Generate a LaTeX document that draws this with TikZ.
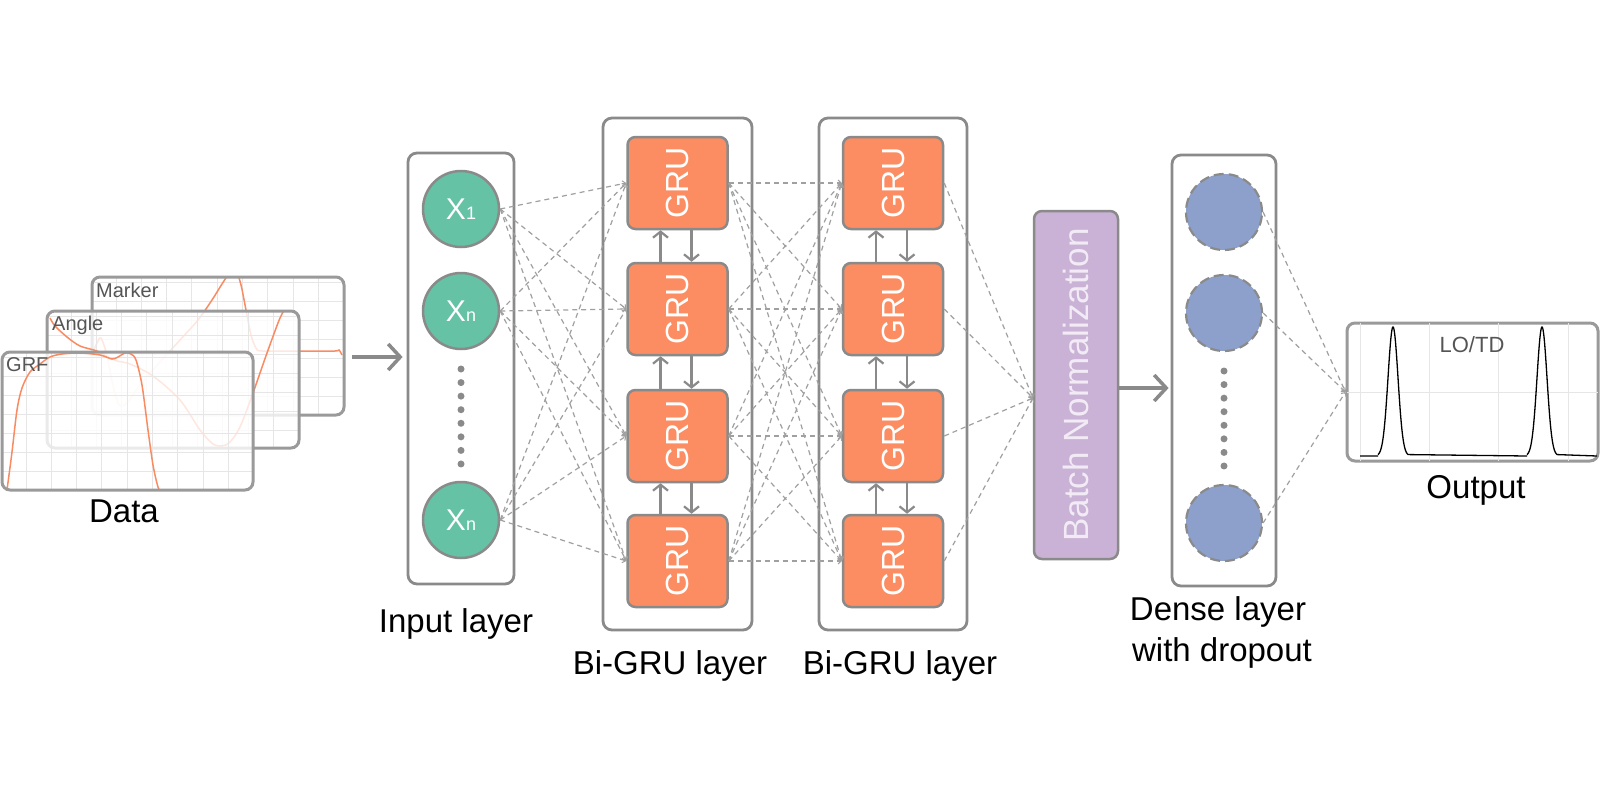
\documentclass[tikz,border=0pt]{standalone}
\usepackage{fontspec}
\setmainfont{Liberation Sans}
\usetikzlibrary{arrows.meta}
\definecolor{bgray}{HTML}{8A8A8A}
\definecolor{dgray}{HTML}{A0A0A0}
\definecolor{pgray}{HTML}{9A9A9A}
\definecolor{inteal}{HTML}{66C2A5}
\definecolor{gruor}{HTML}{FC8D62}
\definecolor{dblue}{HTML}{8DA0CB}
\definecolor{bnpurp}{HTML}{C9B2D6}
\definecolor{bntext}{HTML}{F2EBF5}
\definecolor{gridc}{HTML}{E6E6E6}
\definecolor{ptext}{HTML}{555555}
\definecolor{curvec}{HTML}{F98B63}
\tikzset{
  layerbox/.style={draw=bgray, line width=2.8pt, rounded corners=9pt, inner sep=0pt},
  grunode/.style={draw=bgray, line width=2.5pt, rounded corners=8pt, fill=gruor,
    minimum width=100pt, minimum height=92pt, inner sep=0pt, text=white,
    font=\fontsize{32}{32}\selectfont},
  inneuron/.style={circle, draw=bgray, line width=2.5pt, fill=inteal, minimum size=76pt,
    inner sep=0pt, text=white, font=\fontsize{30}{30}\selectfont},
  dneuron/.style={circle, draw=bgray, line width=2.2pt, dash pattern=on 10pt off 5pt,
    fill=dblue, minimum size=76pt, inner sep=0pt},
  bnbox/.style={draw=bgray, line width=2.5pt, rounded corners=8pt, fill=bnpurp,
    minimum width=84pt, minimum height=348pt, inner sep=0pt, text=bntext,
    font=\fontsize{35}{35}\selectfont},
  conn/.style={draw=dgray, line width=1.2pt, dash pattern=on 5pt off 4pt,
    -{Straight Barb[length=3pt,width=6pt,line width=1pt]}},
  bigarrow/.style={draw=bgray, line width=3.5pt,
    -{Straight Barb[length=12pt,width=26pt,line width=3.5pt]}},
  vertarrow/.style={draw=bgray, line width=2.2pt,
    -{Straight Barb[length=6pt,width=15pt,line width=2.2pt]}},
  lbl/.style={font=\fontsize{33}{33}\selectfont, text=black, anchor=base, inner sep=0pt},
  plabel/.style={font=\fontsize{20}{20}\selectfont, text=ptext, anchor=base west, inner sep=0pt},
  panelborder/.style={draw=pgray, line width=3pt, rounded corners=8pt},
  gridline/.style={draw=gridc, line width=0.9pt},
  curveline/.style={draw=curvec, line width=1.5pt},
  dotc/.style={fill=bgray, circle, inner sep=0pt, minimum size=7pt},
}
\begin{document}
\begin{tikzpicture}[x=1pt,y=-1pt]
\useasboundingbox (0,0) rectangle (1600,800);
\fill[white] (0,0) rectangle (1600,800);

% ---------------- data panels ----------------
% Marker
\fill[white, rounded corners=8pt] (92,277) rectangle (344,415);
\begin{scope}
  \clip[rounded corners=8pt] (92,277) rectangle (344,415);
  \foreach \k in {0,...,9} \draw[gridline] ({92+24+25.3*\k},277) -- ++(0,138);
  \foreach \k in {0,...,6} \draw[gridline] (92,{277+5+19*\k}) -- ++(252,0);
  \draw[curveline] plot[smooth] coordinates {(93,352) (98,341) (101,338) (106,352) (113,385) (119,405) (128,402) (140,385) (160,362) (180,340) (198,320) (212,300) (222,284) (229,274) (236,271) (241,285) (246,310) (251,335) (256,348) (262,351) (300,351) (335,351) (339,350) (342,355)};
\end{scope}
\draw[panelborder] (92,277) rectangle (344,415);
\node[plabel] (tmarker) at (96,297) {Marker};
% Angle
\fill[white, fill opacity=0.8, rounded corners=8pt] (47,311) rectangle (299,448);
\begin{scope}
  \clip[rounded corners=8pt] (47,311) rectangle (299,448);
  \foreach \k in {0,...,9} \draw[gridline] ({47+24+25.3*\k},311) -- ++(0,137);
  \foreach \k in {0,...,6} \draw[gridline] (47,{311+5+19*\k}) -- ++(252,0);
  \draw[curveline] plot[smooth] coordinates {(50,318) (55,326) (67,337) (80,346) (97,351) (110,358) (117,361) (130,364) (153,376) (180,400) (200,430) (213,444) (222,446) (230,442) (240,427) (253,393) (267,353) (280,318) (287,306)};
\end{scope}
\draw[panelborder] (47,311) rectangle (299,448);
\node[plabel] (tangle) at (52,330) {Angle};
% GRF
\fill[white, fill opacity=0.8, rounded corners=8pt] (2,352) rectangle (253,490);
\begin{scope}
  \clip[rounded corners=8pt] (2,352) rectangle (253,490);
  \foreach \k in {0,...,9} \draw[gridline] ({2+24+25.3*\k},352) -- ++(0,138);
  \foreach \k in {0,...,6} \draw[gridline] (2,{352+5+19*\k}) -- ++(251,0);
  \draw[curveline] plot[smooth] coordinates {(7,490) (12,452) (17,410) (22,388) (30,372) (40,364) (50,357) (62,354) (80,353) (100,355) (112,359) (118,357) (125,353) (131,354) (136,360) (142,385) (148,430) (153,465) (158,487) (162,494)};
\end{scope}
\draw[panelborder] (2,352) rectangle (253,490);
\node[plabel] (tgrf) at (6,371) {GRF};
\node[lbl] (ldata) at (124,522) {Data};

% ---------------- layer boxes ----------------
\node[layerbox, minimum width=106pt, minimum height=431pt] (inbox) at (461,368.5) {};
\node[layerbox, minimum width=149pt, minimum height=512pt] (gbox1) at (677.5,374) {};
\node[layerbox, minimum width=148pt, minimum height=512pt] (gbox2) at (893,374) {};
\node[layerbox, minimum width=104pt, minimum height=431pt] (dbox) at (1224,370.5) {};

% input neurons
\node[inneuron] (in1) at (461,209) {X\fontsize{18}{18}\selectfont 1};
\node[inneuron] (in2) at (461,311) {X\fontsize{18}{18}\selectfont n};
\node[inneuron] (in3) at (461,520) {X\fontsize{18}{18}\selectfont n};
\foreach \k in {0,...,7} \node[dotc] (idot\k) at (461,{369+13.57*\k}) {};

% GRU nodes
\foreach \j/\yy in {1/183,2/309,3/436,4/561}{
  \node[grunode] (ga\j) at (677.5,\yy) {\rotatebox{90}{GRU}};
  \node[grunode] (gb\j) at (893,\yy) {\rotatebox{90}{GRU}};
}
\foreach \a/\b in {1/2,2/3,3/4}{
  \draw[vertarrow] ([xshift=-17pt]ga\b.north) -- ([xshift=-17pt]ga\a.south);
  \draw[vertarrow] ([xshift=14pt]ga\a.south) -- ([xshift=14pt]ga\b.north);
  \draw[vertarrow] ([xshift=-17pt]gb\b.north) -- ([xshift=-17pt]gb\a.south);
  \draw[vertarrow] ([xshift=14pt]gb\a.south) -- ([xshift=14pt]gb\b.north);
}

% batch normalization
\node[bnbox] (bn) at (1076,385) {\rotatebox{90}{Batch Normalization}};
\coordinate (bnin) at (1033,398);

% dense neurons
\node[dneuron] (dn1) at (1224,212) {};
\node[dneuron] (dn2) at (1224,313) {};
\node[dneuron] (dn3) at (1224,523) {};
\foreach \k in {0,...,7} \node[dotc] (ddot\k) at (1224,{371+13.57*\k}) {};

% output panel
\node[draw=pgray, line width=3pt, rounded corners=8pt, fill=white, minimum width=251pt,
  minimum height=138pt, inner sep=0pt] (outbox) at (1472.5,392) {};
\begin{scope}
  \clip[rounded corners=8pt] (1347,323) rectangle (1598,461);
  \foreach \xx in {1360,1429,1498,1568} \draw[gridline] (\xx,323) -- (\xx,461);
  \draw[gridline] (1347,392) -- (1598,392);
  \draw[black, line width=1.3pt] (1360,456) -- (1378,456)
    plot[domain=1378:1408, samples=61] (\x,{456-129*exp(-((\x-1393)/5)*((\x-1393)/5)/2)})
    -- (1527,456)
    plot[domain=1527:1557, samples=61] (\x,{456-129*exp(-((\x-1542)/5)*((\x-1542)/5)/2)})
    -- (1597,456);
\end{scope}
\node[font=\fontsize{22}{22}\selectfont, text=ptext, anchor=base, inner sep=0pt] (lotd) at (1472,352) {LO/TD};

% ---------------- connectors ----------------
\foreach \i in {1,2,3} \foreach \j in {1,...,4} \draw[conn] (in\i.east) -- (ga\j.west);
\foreach \i in {1,...,4} \foreach \j in {1,...,4} \draw[conn] (ga\i.east) -- (gb\j.west);
\foreach \i in {1,...,4} \draw[conn] (gb\i.east) -- (bnin);
\foreach \i in {1,2,3} \draw[conn] (dn\i.east) -- (outbox.west);

\coordinate (dstart) at (352,357);
\draw[bigarrow, shorten >=4pt] (dstart) -- (dstart -| inbox.west);
\draw[bigarrow, shorten >=2pt] ([yshift=-3pt]bn.east) -- ([yshift=-3pt]bn.east -| dbox.west);

% ---------------- labels ----------------
\node[lbl] (linput) at (456,632) {Input layer};
\node[lbl] (lgru1) at (670,674) {Bi-GRU layer};
\node[lbl] (lgru2) at (900,674) {Bi-GRU layer};
\node[lbl] (ldense1) at (1218,620) {Dense layer};
\node[lbl] (ldense2) at (1222,661) {with dropout};
\node[lbl] (lout) at (1476,498) {Output};
\end{tikzpicture}
\end{document}
